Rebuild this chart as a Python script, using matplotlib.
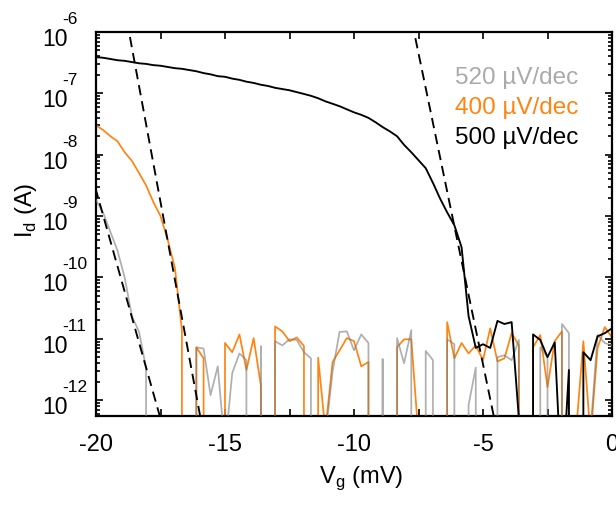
import numpy as np
import matplotlib
matplotlib.use("Agg")
import matplotlib.pyplot as plt
from matplotlib import transforms
from matplotlib.ticker import MultipleLocator, LogLocator, NullFormatter

plt.rcParams['font.family'] = ['Liberation Sans', 'DejaVu Sans']
plt.rcParams['mathtext.fontset'] = 'custom'
plt.rcParams['mathtext.rm'] = 'Liberation Sans'
plt.rcParams['axes.unicode_minus'] = False

# ---------------- data ----------------
vg = [-20.00, -19.72, -19.44, -19.17, -18.89, -18.61, -18.33, -18.06, -17.78, -17.50,
      -17.22, -16.94, -16.67, -16.39, -16.11, -15.83, -15.56, -15.28, -15.00, -14.72,
      -14.44, -14.17, -13.89, -13.61, -13.33, -13.06, -12.78, -12.50, -12.22, -11.94,
      -11.67, -11.39, -11.11, -10.83, -10.56, -10.28, -10.00, -9.72, -9.44, -9.17,
      -8.89, -8.61, -8.33, -8.06, -7.78, -7.50, -7.22, -6.94, -6.67, -6.39,
      -6.11, -5.83, -5.56, -5.28, -5.00, -4.72, -4.44, -4.17, -3.89, -3.61,
      -3.33, -3.06, -2.78, -2.50, -2.22, -1.94, -1.67, -1.39, -1.11, -0.83,
      -0.56, -0.28, 0.00]

# log10(Id / A); None = no current above the noise floor (drawn at the bottom)
gray_log10 = [-8.74, -8.95, -9.26, -9.56, -10.00, -10.63, -10.89, -11.48, None, None,
              None, None, None, None, -11.14, -11.16, -11.92, -11.45, -12.8, -11.56,
              -11.24, -11.35, None, -11.12, None, -11.04, -11.11, -11.01, -11.02, -11.22,
              -11.32, None, -12.6, -11.53, -10.89, -10.88, -11.19, -10.93, -11.07, None,
              -11.33, None, -10.99, -11.40, -10.86, None, -11.20, -11.35, None, -11.01,
              -11.09, None, -12.08, -11.47, None, None, -11.30, -11.27, -11.35, -11.02,
              None, None, -11.14, -11.30, None, -10.76, -10.91, None, None, -12.5,
              -10.94, -11.07, -11.11]

orange_log10 = [-7.52, -7.60, -7.70, -7.78, -7.96, -8.10, -8.30, -8.50, -8.77, -9.00,
                -9.39, -9.85, -10.86, None, -11.14, -11.32, None, None, -11.07, -11.22,
                -10.93, -11.51, -10.99, -11.76, None, -10.80, -10.88, -11.04, -10.98, -11.12,
                None, -11.31, -12.5, -11.38, -11.19, -10.99, -11.04, -11.45, -11.38, None,
                None, None, -11.14, -11.01, -11.01, -12.6, None, None, None, -10.73,
                -11.32, -11.07, -11.24, -11.11, -11.35, -10.83, -11.37, -11.32, -10.91, -11.11,
                None, -11.14, -10.94, -11.79, -11.04, -10.88, None, -12.5, -11.04, -12.6,
                -11.15, -10.81, -10.98]

black_log10 = [-6.41, -6.42, -6.44, -6.46, -6.47, -6.49, -6.51, -6.52, -6.54, -6.55,
               -6.57, -6.59, -6.60, -6.62, -6.64, -6.67, -6.69, -6.72, -6.73, -6.76,
               -6.78, -6.81, -6.83, -6.86, -6.88, -6.91, -6.93, -6.95, -6.98, -7.01,
               -7.04, -7.08, -7.13, -7.17, -7.21, -7.26, -7.31, -7.35, -7.40, -7.47,
               -7.55, -7.62, -7.70, -7.84, -7.96, -8.09, -8.22, -8.46, -8.71, -8.94,
               -9.15, -9.51, -10.63, -11.15, -11.09, -11.15, -10.71, -10.76, -10.73, -12.3,
               None, -10.93, -11.02, -11.30, -11.06, -13.5, -11.51, None, -11.22, -11.35,
               -10.96, -10.91, -10.83]

# subthreshold-slope fits (end points, log10 current)
fit_gray_vg = [-20.2, -17.3]
fit_gray_log10 = [-8.28, -12.6]
fit_orange_vg = [-18.8, -15.8]
fit_orange_log10 = [-5.82, -12.63]
fit_black_vg = [-7.75, -4.5]
fit_black_log10 = [-5.84, -12.43]

slope_labels = ["520 µV/dec", "400 µV/dec", "500 µV/dec"]
ytick_exponents = [-12, -11, -10, -9, -8, -7, -6]

GRAY = '#7f7f7f'
GRAY_TXT = '#aaaaaa'
ORANGE = '#ff8412'
BLACK = '#000000'


def to_current(logs):
    return np.array([10.0 ** v if v is not None else 0.0 for v in logs])


fig = plt.figure(figsize=(6.16, 5.12), dpi=100)
ax = fig.add_axes([96 / 616, 1 - 416 / 512, (612 - 96) / 616, 384 / 512])
ax.set_yscale('log', nonpositive='clip')

ax.plot(vg, to_current(orange_log10), color=ORANGE, lw=1.25, zorder=2)
ax.plot(vg, to_current(gray_log10), color=GRAY, alpha=0.62, lw=1.25, zorder=3)
ax.plot(vg, to_current(black_log10), color=BLACK, lw=1.35, zorder=4)

for fv, fl in [(fit_gray_vg, fit_gray_log10), (fit_orange_vg, fit_orange_log10),
               (fit_black_vg, fit_black_log10)]:
    ax.plot(fv, 10.0 ** np.array(fl), color=BLACK, lw=1.35, ls=(0, (5.5, 3.2)), zorder=5)

ax.set_xlim(-20, 0)
ax.set_ylim(10 ** -12.26, 1e-6)

# ticks
ax.xaxis.set_major_locator(MultipleLocator(5))
ax.xaxis.set_minor_locator(MultipleLocator(2.5))
ax.yaxis.set_major_locator(LogLocator(base=10, numticks=20))
ax.yaxis.set_minor_locator(LogLocator(base=10, subs=np.arange(2, 10), numticks=20))
ax.yaxis.set_major_formatter(NullFormatter())
ax.yaxis.set_minor_formatter(NullFormatter())
ax.tick_params(which='both', direction='in', top=True, right=True, width=1.2)
ax.tick_params(axis='x', which='both', length=5, labelsize=17, pad=13)
ax.tick_params(axis='y', which='major', length=5)
ax.tick_params(axis='y', which='minor', length=2.8)
for s in ax.spines.values():
    s.set_linewidth(1.6)

# y tick labels: "10" with a raised exponent
blend = transforms.blended_transform_factory(ax.transAxes, ax.transData)
for e in ytick_exponents:
    t10 = transforms.offset_copy(blend, fig=fig, x=-28, y=-14, units='dots')
    ax.text(0, 10.0 ** e, '10', transform=t10, ha='right', va='baseline', fontsize=16.5)
    te = transforms.offset_copy(blend, fig=fig, x=-34, y=8, units='dots')
    ax.text(0, 10.0 ** e, str(e), transform=te, ha='left', va='baseline', fontsize=12.5)

ax.set_xlabel(r'V$_\mathregular{g}$ (mV)', fontsize=17)
ax.xaxis.set_label_coords(0.514, -0.125)
ax.set_ylabel(r'I$_\mathregular{d}$ (A)', fontsize=17)
ax.yaxis.set_label_coords(-0.11, 0.535)

for lab, col, y in zip(slope_labels, [GRAY_TXT, ORANGE, BLACK], [0.880, 0.802, 0.724]):
    ax.text(0.696, y, lab, transform=ax.transAxes, color=col, fontsize=17.5,
            ha='left', va='center')

fig.savefig('out.png', dpi=100)
